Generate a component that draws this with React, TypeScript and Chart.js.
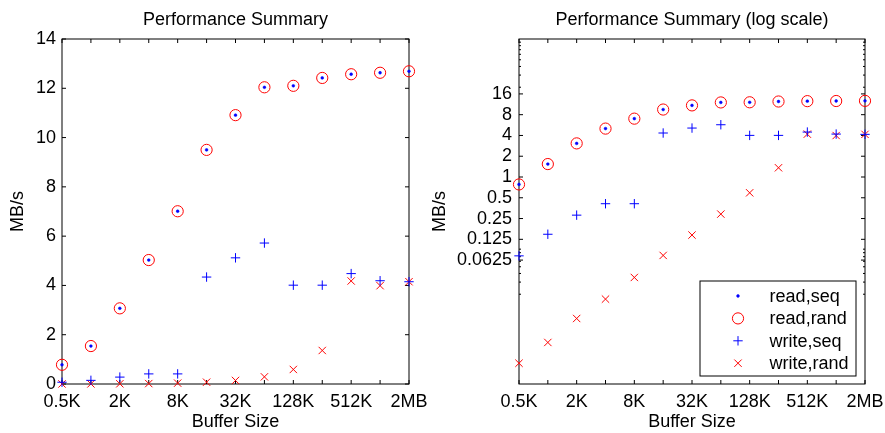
import React, { useEffect, useRef } from 'react';
import { Chart, registerables } from 'chart.js';
import { drawPoint } from 'chart.js/helpers';

Chart.register(...registerables);

const FONT = "'Liberation Sans', Arial, Helvetica, sans-serif";

// ---- data ----
const categories = ['0.5K', '1K', '2K', '4K', '8K', '16K', '32K', '64K', '128K', '256K', '512K', '1M', '2MB'];
const xTickLabels = ['0.5K', '', '2K', '', '8K', '', '32K', '', '128K', '', '512K', '', '2MB'];
const readSeq = [0.78, 1.54, 3.07, 5.03, 7.01, 9.5, 10.91, 12.04, 12.1, 12.42, 12.57, 12.63, 12.69];
const readRand = [0.78, 1.54, 3.07, 5.03, 7.01, 9.5, 10.91, 12.04, 12.1, 12.42, 12.57, 12.63, 12.69];
const writeSeq = [0.072, 0.148, 0.28, 0.41, 0.41, 4.34, 5.12, 5.72, 4.01, 4.01, 4.48, 4.19, 4.15];
const writeRand = [0.002, 0.004, 0.0089, 0.017, 0.035, 0.073, 0.144, 0.29, 0.59, 1.36, 4.18, 3.99, 4.15];
const linearTicks = [0, 2, 4, 6, 8, 10, 12, 14];
const logTicks = [0.0625, 0.125, 0.25, 0.5, 1, 2, 4, 8, 16];
const logMinorDecades = [0.01, 10];
const logMinorSteps = [2, 3, 4, 5, 6, 7, 8, 9];

const framePlugin = {
  id: 'frame',
  beforeDatasetsDraw(chart: any, _args: any, opts: any) {
    const { ctx, chartArea: a } = chart;
    const xs = chart.scales.x;
    const ys = chart.scales.y;
    ctx.save();
    ctx.strokeStyle = '#000';
    ctx.lineWidth = 1;
    ctx.strokeRect(a.left, a.top, a.right - a.left, a.bottom - a.top);
    const L = 4;
    ctx.beginPath();
    categories.forEach((_c, i) => {
      const x = xs.getPixelForValue(i);
      ctx.moveTo(x, a.bottom);
      ctx.lineTo(x, a.bottom - L);
      ctx.moveTo(x, a.top);
      ctx.lineTo(x, a.top + L);
    });
    ys.ticks.forEach((t: any) => {
      const y = ys.getPixelForValue(t.value);
      ctx.moveTo(a.left, y);
      ctx.lineTo(a.left + L, y);
      ctx.moveTo(a.right, y);
      ctx.lineTo(a.right - L, y);
    });
    if (opts.log) {
      logMinorDecades.forEach((d) => {
        logMinorSteps.forEach((k) => {
          const v = d * k;
          const y = ys.getPixelForValue(v);
          ctx.moveTo(a.left, y);
          ctx.lineTo(a.left + 2, y);
          ctx.moveTo(a.right, y);
          ctx.lineTo(a.right - 2, y);
        });
      });
    }
    ctx.stroke();
    ctx.restore();
  },
  afterDraw(chart: any, _args: any, opts: any) {
    const { ctx, chartArea: a } = chart;
    ctx.save();
    ctx.fillStyle = '#000';
    ctx.font = `18px ${FONT}`;
    ctx.textAlign = 'center';
    ctx.textBaseline = 'alphabetic';
    ctx.fillText(opts.title, (a.left + a.right) / 2, 25);
    if (opts.legend) {
      const w = 156;
      const h = 95;
      const bx = a.right - 9 - w;
      const by = a.bottom - 8 - h;
      ctx.fillStyle = '#fff';
      ctx.fillRect(bx, by, w, h);
      ctx.strokeStyle = '#000';
      ctx.lineWidth = 1;
      ctx.strokeRect(bx, by, w, h);
      chart.data.datasets.forEach((ds: any, i: number) => {
        const y = by + 15 + i * 22.4;
        const mx = bx + 38;
        ctx.save();
        ctx.strokeStyle = ds.pointBorderColor;
        ctx.fillStyle = ds.pointBackgroundColor || 'rgba(0,0,0,0)';
        ctx.lineWidth = ds.pointBorderWidth;
        drawPoint(ctx, { pointStyle: ds.pointStyle, radius: ds.pointRadius, rotation: 0, borderWidth: ds.pointBorderWidth }, mx, y);
        ctx.restore();
        ctx.fillStyle = '#000';
        ctx.textAlign = 'left';
        ctx.textBaseline = 'middle';
        ctx.font = `18px ${FONT}`;
        ctx.fillText(ds.label, bx + 69.6, y + 1);
      });
    }
    ctx.restore();
  },
};

function buildConfig(log: boolean): any {
  const mk = (label: string, data: number[], style: string, radius: number, color: string, fill: string, bw: number) => ({
    label,
    data,
    showLine: false,
    clip: false,
    pointStyle: style,
    pointRadius: radius,
    pointHoverRadius: radius,
    pointBackgroundColor: fill,
    pointBorderColor: color,
    pointBorderWidth: bw,
    borderColor: color,
    backgroundColor: fill,
  });
  const datasets = [
    mk('read,seq', readSeq, 'circle', 1.4, '#0000ff', '#0000ff', 0.5),
    mk('read,rand', readRand, 'circle', 5.6, '#ff0000', 'rgba(0,0,0,0)', 1),
    mk('write,seq', writeSeq, 'cross', 4.7, '#0000ff', 'rgba(0,0,0,0)', 1),
    mk('write,rand', writeRand, 'crossRot', 5.2, '#ff0000', 'rgba(0,0,0,0)', 1),
  ];
  const yWidth = log ? 99 : 62;
  const yScale: any = log
    ? {
        type: 'logarithmic',
        min: 0.001,
        max: 100,
        afterBuildTicks: (s: any) => {
          s.ticks = logTicks.map((v) => ({ value: v }));
        },
        ticks: { callback: (v: any) => String(v), font: { size: 18, family: FONT }, color: '#000', padding: 7 },
        title: { display: true, text: 'MB/s', font: { size: 18, family: FONT }, color: '#000', padding: { top: 9, bottom: 0 } },
      }
    : {
        type: 'linear',
        min: 0,
        max: 14,
        afterBuildTicks: (s: any) => {
          s.ticks = linearTicks.map((v) => ({ value: v }));
        },
        ticks: { callback: (v: any) => String(v), font: { size: 18, family: FONT }, color: '#000', padding: 6 },
        title: { display: true, text: 'MB/s', font: { size: 18, family: FONT }, color: '#000', padding: { top: 7, bottom: 0 } },
      };
  Object.assign(yScale, {
    grid: { display: false, drawTicks: false },
    border: { display: false },
    afterFit: (s: any) => {
      s.width = yWidth;
      s.paddingTop = 0;
      s.paddingBottom = 0;
    },
  });
  return {
    type: 'line',
    data: { labels: categories, datasets },
    options: {
      responsive: false,
      animation: false,
      devicePixelRatio: 1,
      layout: { padding: { top: 39, right: log ? 20 : 31, bottom: 0, left: 0 } },
      plugins: {
        legend: { display: false },
        tooltip: { enabled: false },
        title: { display: false },
        frame: { title: log ? 'Performance Summary (log scale)' : 'Performance Summary', legend: log, log },
      },
      scales: {
        x: {
          type: 'category',
          offset: false,
          grid: { display: false, drawTicks: false },
          border: { display: false },
          ticks: {
            autoSkip: false,
            maxRotation: 0,
            minRotation: 0,
            padding: 7,
            font: { size: 18, family: FONT },
            color: '#000',
            callback: (_v: any, i: number) => xTickLabels[i],
          },
          title: { display: true, text: 'Buffer Size', font: { size: 18, family: FONT }, color: '#000', padding: { top: 0, bottom: 0 } },
          afterFit: (s: any) => {
            s.height = 49;
            s.paddingLeft = 0;
            s.paddingRight = 0;
          },
        },
        y: yScale,
      },
    },
    plugins: [framePlugin],
  };
}

export default function App() {
  const leftRef = useRef<HTMLCanvasElement>(null);
  const rightRef = useRef<HTMLCanvasElement>(null);
  useEffect(() => {
    const c1 = new Chart(leftRef.current as HTMLCanvasElement, buildConfig(false));
    const c2 = new Chart(rightRef.current as HTMLCanvasElement, buildConfig(true));
    return () => {
      c1.destroy();
      c2.destroy();
    };
  }, []);
  return (
    <div style={{ position: 'fixed', left: 0, top: 0, width: 885, height: 433, background: '#fff' }}>
      <canvas ref={leftRef} width={440} height={433} style={{ position: 'absolute', left: 0, top: 0, width: 440, height: 433 }} />
      <canvas ref={rightRef} width={465} height={433} style={{ position: 'absolute', left: 420, top: 0, width: 465, height: 433 }} />
    </div>
  );
}
